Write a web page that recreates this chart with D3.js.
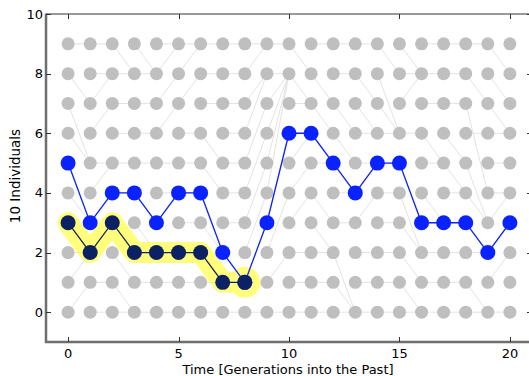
<!DOCTYPE html>
<html>
<head>
<meta charset="utf-8">
<script src="https://cdn.jsdelivr.net/npm/d3@7"></script>
<style>
  body { margin: 0; background: #fff; }
  text { font-family: "DejaVu Sans", sans-serif; }
</style>
</head>
<body>
<div id="chart"></div>
<script>
// ---- data -------------------------------------------------------------------
var generations = d3.range(0, 21);          // time steps into the past
var individuals = d3.range(0, 10);          // population slots
// parents[t][i] = slot of the parent (at t+1) of individual i at time t
var parents = [
  [1,2,2,2,3,3,5,5,7,9],
  [0,1,3,4,5,5,7,8,8,9],
  [0,0,1,2,4,5,6,7,8,8],
  [0,1,2,2,3,5,6,7,8,8],
  [0,1,2,4,4,5,7,8,9,9],
  [0,1,2,3,4,5,6,8,9,9],
  [0,1,1,2,2,4,5,7,8,9],
  [0,1,1,3,4,5,6,7,8,9],
  [0,3,4,5,6,7,8,8,9,9],
  [0,2,4,6,8,8,8,8,8,9],
  [0,1,2,4,5,6,6,7,7,8],
  [0,1,2,2,3,5,5,6,7,9],
  [0,0,0,3,4,4,5,6,8,9],
  [0,1,2,4,5,5,6,6,7,9],
  [0,1,2,3,4,5,6,6,6,8],
  [0,0,1,2,2,3,6,8,8,8],
  [0,1,2,3,3,5,5,7,8,9],
  [0,1,2,3,4,4,5,7,8,9],
  [0,0,2,2,3,3,6,4,7,9],
  [0,2,3,4,4,5,6,6,7,8]
];
var blueLineage = [5,3,4,4,3,4,4,2,1,3,6,6,5,4,5,5,3,3,3,2,3];
var navyLineage = [3,2,3,2,2,2,2,1,1];
var xTicks = [0, 5, 10, 15, 20];
var yTicks = [0, 2, 4, 6, 8, 10];

// ---- layout -----------------------------------------------------------------
var W = 529, H = 376;
var pl = 46, pr = 532, pt = 14, pb = 342;   // plot box edges

var svg = d3.select("#chart").append("svg")
  .attr("width", W).attr("height", H);

var x = d3.scaleLinear().domain([-1, 21]).range([pl, pr]);
var y = d3.scaleLinear().domain([-1, 10]).range([pb, pt]);

var plot = svg.append("g");

// genealogy links
var links = [];
parents.forEach(function(row, t) {
  row.forEach(function(p, i) {
    links.push({t: t, i: i, p: p});
  });
});
plot.append("g")
  .attr("stroke", "#e3e3e3")
  .attr("stroke-width", 1)
.selectAll("line")
  .data(links)
  .enter().append("line")
  .attr("x1", function(d) { return x(d.t); })
  .attr("y1", function(d) { return y(d.i); })
  .attr("x2", function(d) { return x(d.t + 1); })
  .attr("y2", function(d) { return y(d.p); });

// grey population dots
var cells = [];
generations.forEach(function(t) {
  individuals.forEach(function(i) { cells.push({t: t, i: i}); });
});
plot.append("g").attr("fill", "#bfbfbf")
.selectAll("circle")
  .data(cells)
  .enter().append("circle")
  .attr("cx", function(d) { return x(d.t); })
  .attr("cy", function(d) { return y(d.i); })
  .attr("r", 6.5);

var line = d3.line()
  .x(function(d, t) { return x(t); })
  .y(function(d) { return y(d); });

// yellow highlight behind the coalescing lineage
var hl = plot.append("g").attr("opacity", 0.55);
hl.append("path")
  .attr("d", line(navyLineage))
  .attr("fill", "none")
  .attr("stroke", "#ffff10")
  .attr("stroke-width", 21)
  .attr("stroke-linecap", "round")
  .attr("stroke-linejoin", "round");
hl.append("circle")
  .attr("cx", x(navyLineage.length - 1))
  .attr("cy", y(navyLineage[navyLineage.length - 1]))
  .attr("r", 15.5)
  .attr("fill", "#ffff10");

// blue lineage
plot.append("path")
  .attr("d", line(blueLineage))
  .attr("fill", "none")
  .attr("stroke", "#0a22ff")
  .attr("stroke-width", 1.3);
plot.append("g").attr("fill", "#0a22ff")
.selectAll("circle")
  .data(blueLineage)
  .enter().append("circle")
  .attr("cx", function(d, t) { return x(t); })
  .attr("cy", function(d) { return y(d); })
  .attr("r", 7.5);

// navy lineage
plot.append("path")
  .attr("d", line(navyLineage))
  .attr("fill", "none")
  .attr("stroke", "#16234f")
  .attr("stroke-width", 1.3);
plot.append("g").attr("fill", "#0c2064")
.selectAll("circle")
  .data(navyLineage)
  .enter().append("circle")
  .attr("cx", function(d, t) { return x(t); })
  .attr("cy", function(d) { return y(d); })
  .attr("r", 7.5);

// ---- axes frame -------------------------------------------------------------
var frame = svg.append("g");
frame.append("line")
  .attr("x1", pl).attr("x2", pr).attr("y1", pt).attr("y2", pt)
  .attr("stroke", "#333").attr("stroke-width", 1);
frame.append("line")
  .attr("x1", pr).attr("x2", pr).attr("y1", pt).attr("y2", pb)
  .attr("stroke", "#333").attr("stroke-width", 1);
frame.append("line")
  .attr("x1", pl).attr("x2", pl).attr("y1", pt - 0.5).attr("y2", pb + 1)
  .attr("stroke", "#6e6e6e").attr("stroke-width", 2.5);
frame.append("line")
  .attr("x1", pl - 1).attr("x2", pr).attr("y1", pb).attr("y2", pb)
  .attr("stroke", "#6e6e6e").attr("stroke-width", 2.5);

// inward ticks on all four sides
var tl = 5;
frame.append("g").attr("stroke", "#333").attr("stroke-width", 1)
  .selectAll("line").data(xTicks).enter().append("line")
  .attr("x1", function(d) { return Math.round(x(d)) + 0.5; })
  .attr("x2", function(d) { return Math.round(x(d)) + 0.5; })
  .attr("y1", pb).attr("y2", pb - tl);
frame.append("g").attr("stroke", "#333").attr("stroke-width", 1)
  .selectAll("line").data(xTicks).enter().append("line")
  .attr("x1", function(d) { return Math.round(x(d)) + 0.5; })
  .attr("x2", function(d) { return Math.round(x(d)) + 0.5; })
  .attr("y1", pt).attr("y2", pt + tl);
frame.append("g").attr("stroke", "#333").attr("stroke-width", 1)
  .selectAll("line").data(yTicks).enter().append("line")
  .attr("x1", pl).attr("x2", pl + tl)
  .attr("y1", function(d) { return Math.round(y(d)) + 0.5; })
  .attr("y2", function(d) { return Math.round(y(d)) + 0.5; });
frame.append("g").attr("stroke", "#333").attr("stroke-width", 1)
  .selectAll("line").data(yTicks).enter().append("line")
  .attr("x1", pr).attr("x2", pr - tl)
  .attr("y1", function(d) { return Math.round(y(d)) + 0.5; })
  .attr("y2", function(d) { return Math.round(y(d)) + 0.5; });

// tick labels
svg.append("g").selectAll("text").data(xTicks).enter().append("text")
  .attr("x", function(d) { return x(d); })
  .attr("y", pb + 16)
  .attr("text-anchor", "middle")
  .style("font-size", "13px")
  .text(function(d) { return d; });
svg.append("g").selectAll("text").data(yTicks).enter().append("text")
  .attr("x", pl - 3)
  .attr("y", function(d) { return y(d) + 4.5; })
  .attr("text-anchor", "end")
  .style("font-size", "13px")
  .text(function(d) { return d; });

// axis titles
svg.append("text")
  .attr("x", (pl + pr) / 2 - 1)
  .attr("y", 374)
  .attr("text-anchor", "middle")
  .style("font-size", "13px")
  .text("Time [Generations into the Past]");
svg.append("text")
  .attr("transform", "translate(20," + ((pt + pb) / 2 - 2) + ") rotate(-90)")
  .attr("text-anchor", "middle")
  .style("font-size", "13.5px")
  .text("10 Individuals");
</script>
</body>
</html>
